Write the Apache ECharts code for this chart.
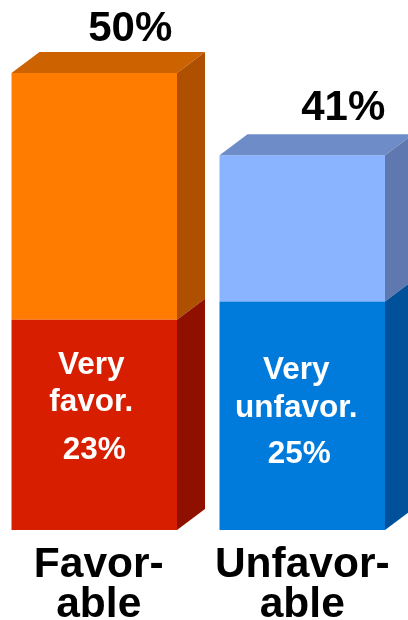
<!DOCTYPE html>
<html><head><meta charset="utf-8">
<style>html,body{margin:0;padding:0;background:#fff}#c{width:408px;height:620px}</style>
<script src="https://cdn.jsdelivr.net/npm/echarts@6/dist/echarts.min.js"></script>
</head><body><div id="c"></div>
<script>
const categories = ['Favor-\nable', 'Unfavor-\nable'];
const veryValues = [23, 25];
const totalValues = [50, 41];
const veryLabels = [['Very','favor.'], ['Very','unfavor.']];
const veryValueLabels = ['23%', '25%'];
const totalLabels = ['50%', '41%'];

const DX = 28, DY = -21;
const FONT = '"Liberation Sans", Arial, sans-serif';
const palette = [
  {upper:'#FF7C00', top:'#CC6300', upperSide:'#AE5000', lower:'#D81E00', lowerSide:'#901000'},
  {upper:'#8AB4FF', top:'#6E8CC8', upperSide:'#5F78AF', lower:'#007BDB', lowerSide:'#00519A'}
];
const labelShift = [{x:-3, y:[-60,-23,25]}, {x:-6, y:[-45,-7,39]}];

function poly(points, fill){
  return {type:'polygon', shape:{points}, style:{fill}, silent:true};
}
function renderItem(params, api){
  const i = api.value(0);
  const c = palette[i];
  const w = api.size([1,0])[0] * 0.7957;
  const cx = api.coord([i,0])[0];
  const x0 = cx - w/2, x1 = cx + w/2;
  const yB = api.coord([i,0])[1];
  const yM = api.coord([i,api.value(1)])[1];
  const yT = api.coord([i,api.value(2)])[1];
  const text = (content,fill,fontSize,x,y) => ({type:'text', x, y, silent:true, style:{
    text:content, fill, fontSize, fontFamily:FONT, fontWeight:'bold', align:'center', verticalAlign:'middle'}});
  const s = labelShift[i];
  const yC = (yB + yM)/2;
  return {type:'group', children:[
    {type:'rect', shape:{x:x0,y:yT,width:w,height:yM-yT}, style:{fill:c.upper}},
    {type:'rect', shape:{x:x0,y:yM,width:w,height:yB-yM}, style:{fill:c.lower}},
    poly([[x0,yT],[x0+DX,yT+DY],[x1+DX,yT+DY],[x1,yT]], c.top),
    poly([[x1,yT],[x1+DX,yT+DY],[x1+DX,yM+DY],[x1,yM]], c.upperSide),
    poly([[x1,yM],[x1+DX,yM+DY],[x1+DX,yB+DY],[x1,yB]], c.lowerSide),
    text(veryLabels[i][0], '#fff', 31.5, cx+s.x, yC+s.y[0]),
    text(veryLabels[i][1], '#fff', 31.5, cx+s.x, yC+s.y[1]),
    text(veryValueLabels[i], '#fff', 31.5, cx+s.x+3, yC+s.y[2]),
    text(totalLabels[i], '#000', 42, cx+(i?41:36), yT-(i?47:44))
  ]};
}
const chart = echarts.init(document.getElementById('c'), null, {renderer:'canvas'});
chart.setOption({
  animation:false,
  backgroundColor:'#fff',
  grid:{left:-9.75, width:416, top:73, height:457, outerBoundsMode:'none', containLabel:false},
  xAxis:{type:'category', data:categories, axisLine:{show:false}, axisTick:{show:false},
    axisLabel:{margin:15, interval:0, hideOverlap:false, formatter:(v,i)=>v.split('\n').map(t=>`{${i?'b':'a'}|${t}}`).join('\n'),
      rich:{
        a:{fontFamily:FONT,fontWeight:'bold',fontSize:42.5,lineHeight:40,color:'#000',padding:[0,0,0,9]},
        b:{fontFamily:FONT,fontWeight:'bold',fontSize:42.5,lineHeight:40,color:'#000'}
      }}},
  yAxis:{type:'value', min:0, max:50, show:false, splitLine:{show:false}},
  series:[{type:'custom', clip:false, renderItem,
    encode:{x:0,y:2},
    data:categories.map((_,i)=>[i,veryValues[i],totalValues[i]])}]
});
</script></body></html>
